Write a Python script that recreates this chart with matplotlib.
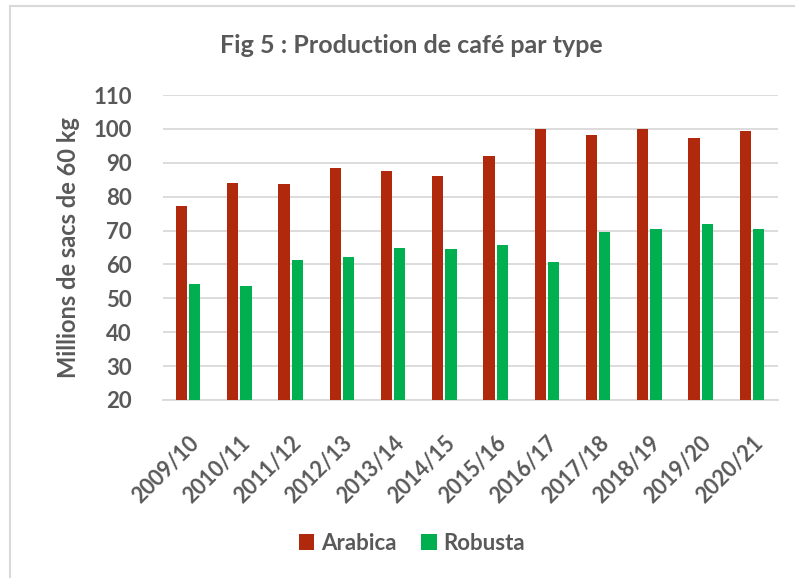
import matplotlib.pyplot as plt
from matplotlib.lines import Line2D
import numpy as np

# Données (millions de sacs de 60 kg)
campagnes = ['2009/10', '2010/11', '2011/12', '2012/13', '2013/14', '2014/15',
             '2015/16', '2016/17', '2017/18', '2018/19', '2019/20', '2020/21']
arabica = [77.2, 84.0, 83.6, 88.6, 87.7, 86.1, 91.9, 100.0, 98.2, 100.0, 97.2, 99.3]
robusta = [54.2, 53.6, 61.3, 62.2, 65.0, 64.5, 65.7, 60.7, 69.6, 70.4, 71.9, 70.4]

plt.rcParams['font.family'] = ['Lato', 'DejaVu Sans']
gris = '#595959'
rouge = '#B0290C'
vert = '#00B050'

fig = plt.figure(figsize=(7.95, 5.78), dpi=100)
ax = fig.add_axes([162.5 / 795, 1 - 400 / 578, 615 / 795, 305 / 578])

x = np.arange(len(campagnes))
w = 0.22
ax.bar(x - 0.13, arabica, w, color=rouge, label='Arabica', zorder=3)
ax.bar(x + 0.13, robusta, w, color=vert, label='Robusta', zorder=3)

ax.set_xlim(-0.5, len(campagnes) - 0.5)
ax.set_ylim(20, 110)
ax.set_yticks(range(20, 111, 10))
ax.yaxis.grid(True, color='#d9d9d9', linewidth=1.3, zorder=0)
ax.set_axisbelow(True)
for s in ['top', 'right', 'left']:
    ax.spines[s].set_visible(False)
ax.spines['bottom'].set_color('#d9d9d9')
ax.spines['bottom'].set_linewidth(1.3)
ax.tick_params(length=0, colors=gris, labelsize=16)
ax.tick_params(axis='y', pad=22)
ax.set_xticks(x)
ax.set_xticklabels(campagnes, rotation=45, ha='right', rotation_mode='anchor',
                   fontweight='bold', fontsize=15.5)
ax.tick_params(axis='x', pad=23)
for t in ax.get_yticklabels():
    t.set_fontweight('bold')

ax.set_ylabel('Millions de sacs de 60 kg', fontsize=17, fontweight='bold',
              color=gris, labelpad=10)

fig.text(0.518, 0.921, 'Fig 5 : Production de café par type', ha='center',
         va='center', fontsize=18, fontweight='bold', color=gris)

leg = fig.legend(loc='center', bbox_to_anchor=(0.518, 0.06), ncol=2, frameon=False,
                 fontsize=16, handlelength=0.7, handleheight=0.7,
                 columnspacing=1.1, handletextpad=0.3)
for t in leg.get_texts():
    t.set_color(gris)
    t.set_fontweight('bold')

# cadre du graphique
fig.add_artist(Line2D([10 / 795, 10 / 795], [0, 1 - 6 / 578], color='#d9d9d9',
                      linewidth=1.5, transform=fig.transFigure))
fig.add_artist(Line2D([10 / 795, 1], [1 - 6 / 578, 1 - 6 / 578], color='#d9d9d9',
                      linewidth=1.5, transform=fig.transFigure))

fig.savefig('out.png', dpi=100)
